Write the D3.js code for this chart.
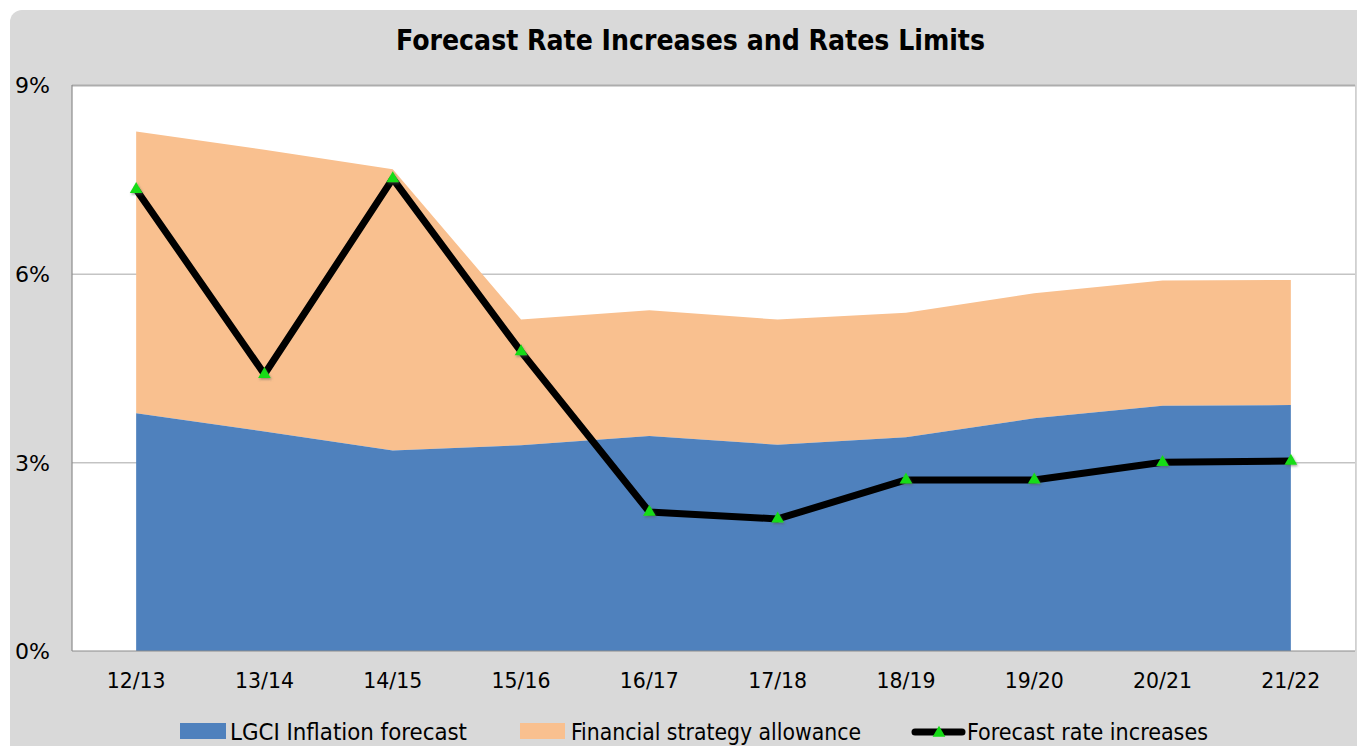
<!DOCTYPE html>
<html>
<head>
<meta charset="utf-8">
<script src="https://cdn.jsdelivr.net/npm/d3@7"></script>
<style>
  html, body { margin: 0; padding: 0; background: #ffffff; }
  svg { display: block; }
  text { font-family: 'DejaVu Sans Condensed', 'DejaVu Sans', sans-serif; fill: #000; }
</style>
</head>
<body>
<svg id="chart" width="1357" height="746"></svg>
<script>
// ---- data ----
const categories = ["12/13", "13/14", "14/15", "15/16", "16/17", "17/18", "18/19", "19/20", "20/21", "21/22"];
const inflation = [3.78, 3.49, 3.19, 3.27, 3.42, 3.28, 3.40, 3.70, 3.90, 3.91];
const allowance = [4.48, 4.48, 4.47, 2.00, 2.00, 1.99, 1.98, 1.99, 1.99, 1.99];
const forecast = [7.34, 4.40, 7.51, 4.76, 2.21, 2.10, 2.72, 2.72, 3.00, 3.02];
const yTicks = [0, 3, 6, 9];
const seriesNames = ["LGCI Inflation forecast", "Financial strategy allowance", "Forecast rate increases"];
const title = "Forecast Rate Increases and Rates Limits";

// ---- layout ----
const W = 1357, H = 746;
const plot = { left: 72, right: 1355, top: 85, bottom: 651 };
const colBlue = "#4f81bd", colOrange = "#f9c08f", colPanel = "#d9d9d9";

const svg = d3.select("#chart");

const defs = svg.append("defs");
const f = defs.append("filter").attr("id", "mshadow").attr("x", "-50%").attr("y", "-50%").attr("width", "200%").attr("height", "200%");
f.append("feDropShadow").attr("dx", 1).attr("dy", 1.5).attr("stdDeviation", 1.2).attr("flood-color", "#555").attr("flood-opacity", 0.55);

// panel
svg.append("rect").attr("x", 10).attr("y", 10).attr("width", W + 20).attr("height", H + 20)
  .attr("rx", 12).attr("fill", colPanel);

// plot background
svg.append("rect").attr("x", plot.left).attr("y", plot.top)
  .attr("width", plot.right - plot.left).attr("height", plot.bottom - plot.top).attr("fill", "#fff");

const x = d3.scaleBand().domain(categories).range([plot.left, plot.right]);
const cx = c => x(c) + x.bandwidth() / 2;
const y = d3.scaleLinear().domain([0, 9]).range([plot.bottom, plot.top]);

// gridlines
const grid = svg.append("g").attr("transform", `translate(${plot.left},0)`)
  .call(d3.axisLeft(y).tickValues(yTicks.filter(t => t > 0)).tickSize(-(plot.right - plot.left)).tickFormat(""));
grid.select(".domain").remove();
grid.selectAll(".tick line").attr("stroke", "#a6a6a6").attr("stroke-width", 1);
grid.selectAll(".tick").filter(d => d === 9).select("line").attr("stroke-width", 2).attr("stroke", "#adadad");

// stacked areas
const data = categories.map((c, i) => ({ c, infl: inflation[i], allow: allowance[i], fc: forecast[i] }));
const stack = d3.stack().keys(["infl", "allow"])(data);
const area = d3.area().x(d => cx(d.data.c)).y0(d => y(d[0])).y1(d => y(d[1]));
svg.append("path").datum(stack[1]).attr("d", area).attr("fill", colOrange);
svg.append("path").datum(stack[0]).attr("d", area).attr("fill", colBlue);

// axis lines
svg.append("line").attr("x1", plot.left).attr("x2", plot.left).attr("y1", plot.top).attr("y2", plot.bottom)
  .attr("stroke", "#8c8c8c").attr("stroke-width", 1.2);
svg.append("line").attr("x1", plot.left).attr("x2", plot.right).attr("y1", plot.bottom).attr("y2", plot.bottom)
  .attr("stroke", "#8c8c8c").attr("stroke-width", 1.2);
svg.append("line").attr("x1", plot.right + 0.5).attr("x2", plot.right + 0.5).attr("y1", plot.top).attr("y2", plot.bottom)
  .attr("stroke", "#d0d0d0").attr("stroke-width", 1);

// forecast line
const line = d3.line().x(d => cx(d.c)).y(d => y(d.fc));
svg.append("path").datum(data).attr("d", line).attr("fill", "none")
  .attr("stroke", "#000").attr("stroke-width", 7).attr("stroke-linejoin", "round");

// markers
const tri = d3.symbol().type(d3.symbolTriangle).size(70);
svg.append("g").selectAll("path").data(data).join("path")
  .attr("d", tri).attr("transform", d => `translate(${cx(d.c)},${y(d.fc)})`)
  .attr("fill", "#16dc16").attr("filter", "url(#mshadow)");

// helper: squeeze text to target width
function fit(sel, target) {
  const w = sel.node().getComputedTextLength();
  if (w > 0) sel.attr("textLength", target).attr("lengthAdjust", "spacingAndGlyphs");
}

// title
const t = svg.append("text").attr("x", 690.5).attr("y", 50).attr("text-anchor", "middle")
  .attr("font-size", 29).attr("font-weight", "bold").text(title);
fit(t, 589);

// y axis labels
const yAxis = svg.append("g").attr("transform", `translate(50,0)`)
  .call(d3.axisLeft(y).tickValues(yTicks).tickSize(0).tickPadding(0).tickFormat(d => d + "%"));
yAxis.select(".domain").remove();
yAxis.selectAll("text").attr("font-size", 22).attr("font-family", null).attr("dy", "0.36em").attr("fill", "#000")
  .each(function () { fit(d3.select(this), 35); });

// x axis labels
const xAxis = svg.append("g").attr("transform", `translate(0,${plot.bottom})`)
  .call(d3.axisBottom(x).tickSize(0).tickPadding(0));
xAxis.select(".domain").remove();
xAxis.selectAll("text").attr("font-size", 21).attr("font-family", null).attr("dy", null).attr("y", 37).attr("fill", "#000")
  .each(function () { fit(d3.select(this), 59); });

// legend
const lg = svg.append("g");
lg.append("rect").attr("x", 180).attr("y", 723).attr("width", 46).attr("height", 16).attr("fill", colBlue);
fit(lg.append("text").attr("x", 230).attr("y", 740).attr("font-size", 23).text(seriesNames[0]), 237);
lg.append("rect").attr("x", 520).attr("y", 723).attr("width", 45).attr("height", 16).attr("fill", colOrange);
fit(lg.append("text").attr("x", 571).attr("y", 740).attr("font-size", 23).text(seriesNames[1]), 290);
lg.append("line").attr("x1", 915).attr("x2", 962).attr("y1", 732).attr("y2", 732)
  .attr("stroke", "#000").attr("stroke-width", 7).attr("stroke-linecap", "round");
lg.append("path").attr("d", tri).attr("transform", "translate(939,733)").attr("fill", "#16dc16");
fit(lg.append("text").attr("x", 967).attr("y", 740).attr("font-size", 23).text(seriesNames[2]), 241);
</script>
</body>
</html>
